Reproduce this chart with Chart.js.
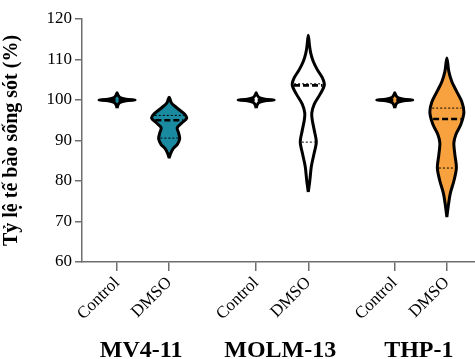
<!DOCTYPE html>
<html>
<head>
<meta charset="utf-8">
<script src="https://cdn.jsdelivr.net/npm/chart.js@4"></script>
<style>
  html, body { margin: 0; padding: 0; background: #fff; }
  #wrap { width: 475px; height: 359px; }
</style>
</head>
<body>
<div id="wrap"><canvas id="chart"></canvas></div>
<script>
'use strict';

// ── Datos ───────────────────────────
const GROUPS     = ['MV4-11', 'MOLM-13', 'THP-1'];
const CATEGORIES = ['Control', 'DMSO', 'Control', 'DMSO', 'Control', 'DMSO'];
const POSITIONS  = [1, 2, 3.67, 4.67, 6.33, 7.33];
const Y_TICKS    = [60, 70, 80, 90, 100, 110, 120];

// contorno de cada violín: niveles y (%) y semi-anchura (px a escala 52px = 1 unidad)
const CTRL_Y = [98.0, 98.8, 99.4, 99.8, 100.0, 100.2, 100.6, 101.2, 101.8];
const CTRL_W = [0, 1, 3, 9, 18, 9, 3, 1, 0];

const MV4_DMSO_Y = [85.7, 86.8, 88.0, 89.0, 90.4, 91.8, 93.1, 94.2, 95.5, 96.6, 97.6, 98.6, 99.4, 100.7];
const MV4_DMSO_W = [0, 1.5, 4, 8, 10.5, 9.5, 8, 12, 17.5, 15, 10, 5, 2, 0];

const MOLM_DMSO_Y = [77.3, 80, 83.5, 86.5, 89.6, 92.5, 95, 96.8, 99, 101.5, 103.7, 105.5, 107.5, 109.5, 111.5, 113.5, 116];
const MOLM_DMSO_W = [0, 1.5, 3, 5.5, 8, 6, 4, 3.5, 6, 12, 16, 14, 9, 5, 2.5, 1.2, 0];

const THP_DMSO_Y = [71.1, 74, 77, 80, 83.2, 86.5, 89.4, 91.5, 94, 97, 99.5, 102, 104.5, 107, 110.4];
const THP_DMSO_W = [0, 1.5, 3.5, 7, 9.5, 8, 7, 9, 14, 17, 15, 10, 5, 2, 0];

const MEDIANS   = [100, 95, 100, 103.6, 100, 95.3];
const Q_UPPER   = [null, 96.2, null, 104.0, null, 98.0];
const Q_LOWER   = [null, 90.6, null, 89.6, null, 83.2];

const TEAL   = '#1a8aa0';
const WHITE  = '#ffffff';
const ORANGE = '#f7a23e';
const FILLS  = [TEAL, TEAL, WHITE, WHITE, ORANGE, ORANGE];
const AXIS   = '#6e6e6e';
const PX_PER_UNIT = 52;

const SHAPES = [
  [CTRL_Y, CTRL_W], [MV4_DMSO_Y, MV4_DMSO_W],
  [CTRL_Y, CTRL_W], [MOLM_DMSO_Y, MOLM_DMSO_W],
  [CTRL_Y, CTRL_W], [THP_DMSO_Y, THP_DMSO_W]
];

// ── Helpers ─────
function outline(pos, ys, ws) {
  const right = ys.map((y, i) => ({ x: pos + ws[i] / PX_PER_UNIT, y }));
  const left  = ys.map((y, i) => ({ x: pos - ws[i] / PX_PER_UNIT, y })).reverse();
  return right.concat(left.slice(1));
}

function widthAt(ys, ws, y) {
  for (let i = 1; i < ys.length; i++) {
    if (y <= ys[i]) {
      const t = (y - ys[i - 1]) / (ys[i] - ys[i - 1]);
      return (ws[i - 1] + t * (ws[i] - ws[i - 1])) / PX_PER_UNIT;
    }
  }
  return 0;
}

function hline(pos, ys, ws, y, dash, lw) {
  const w = Math.max(widthAt(ys, ws, y) - 0.03, 0.02);
  return {
    data: [{ x: pos - w, y }, { x: pos + w, y }],
    showLine: true, borderColor: '#000', borderWidth: lw, borderDash: dash,
    pointRadius: 0, fill: false, order: 1
  };
}

const datasets = [];
POSITIONS.forEach((pos, i) => {
  const [ys, ws] = SHAPES[i];
  datasets.push({
    data: outline(pos, ys, ws),
    showLine: true, tension: 0.3,
    borderColor: '#000', borderWidth: 3,
    backgroundColor: FILLS[i], fill: 'shape',
    pointRadius: 0, order: 2
  });
  datasets.push(hline(pos, ys, ws, MEDIANS[i], [6, 3], 2.6));
  if (Q_UPPER[i] != null) datasets.push(hline(pos, ys, ws, Q_UPPER[i], [2, 2], 1));
  if (Q_LOWER[i] != null) datasets.push(hline(pos, ys, ws, Q_LOWER[i], [2, 2], 1));
});

// nombres de grupo bajo el eje
const groupLabels = {
  id: 'groupLabels',
  afterDraw(chart) {
    const { ctx, scales: { x }, chartArea } = chart;
    ctx.save();
    ctx.font = "bold 24px 'Liberation Serif', serif";
    ctx.fillStyle = '#000';
    ctx.textAlign = 'center';
    ctx.textBaseline = 'middle';
    GROUPS.forEach((g, i) => {
      const cx = (x.getPixelForValue(POSITIONS[i * 2]) + x.getPixelForValue(POSITIONS[i * 2 + 1])) / 2;
      ctx.fillText(g, cx - 2, chartArea.bottom + 89);
    });
    ctx.restore();
  }
};

new Chart(document.getElementById('chart'), {
  type: 'scatter',
  data: { datasets },
  plugins: [groupLabels],
  options: {
    responsive: true,
    maintainAspectRatio: false,
    animation: false,
    layout: { padding: { top: 19, left: 0, right: 0, bottom: 0 } },
    plugins: { legend: { display: false }, tooltip: { enabled: false } },
    scales: {
      x: {
        type: 'linear',
        min: 0.327, max: 7.87,
        afterBuildTicks: (axis) => { axis.ticks = POSITIONS.map(v => ({ value: v })); },
        afterFit: (axis) => { axis.height = 97; },
        ticks: {
          autoSkip: false, minRotation: 45, maxRotation: 45, padding: 2,
          color: '#000',
          font: { family: "'Liberation Serif', serif", size: 17 },
          callback: (v, i) => CATEGORIES[i]
        },
        grid: { drawOnChartArea: false, color: AXIS, lineWidth: 1.5, tickLength: 9 },
        border: { color: AXIS, width: 1.5 }
      },
      y: {
        min: 60, max: 120,
        afterBuildTicks: (axis) => { axis.ticks = Y_TICKS.map(v => ({ value: v })); },
        afterFit: (axis) => { axis.width = 82; },
        ticks: {
          color: '#000', padding: 3,
          font: { family: "'Liberation Serif', serif", size: 17 }
        },
        title: {
          display: true, text: 'Tỷ lệ tế bào sống sót (%)', color: '#000',
          padding: { top: 0, bottom: 0 },
          font: { family: "'Liberation Serif', serif", size: 20, weight: 'bold' }
        },
        grid: { drawOnChartArea: false, color: AXIS, lineWidth: 1.5, tickLength: 7 },
        border: { color: AXIS, width: 1.5 }
      }
    }
  }
});
</script>
</body>
</html>
